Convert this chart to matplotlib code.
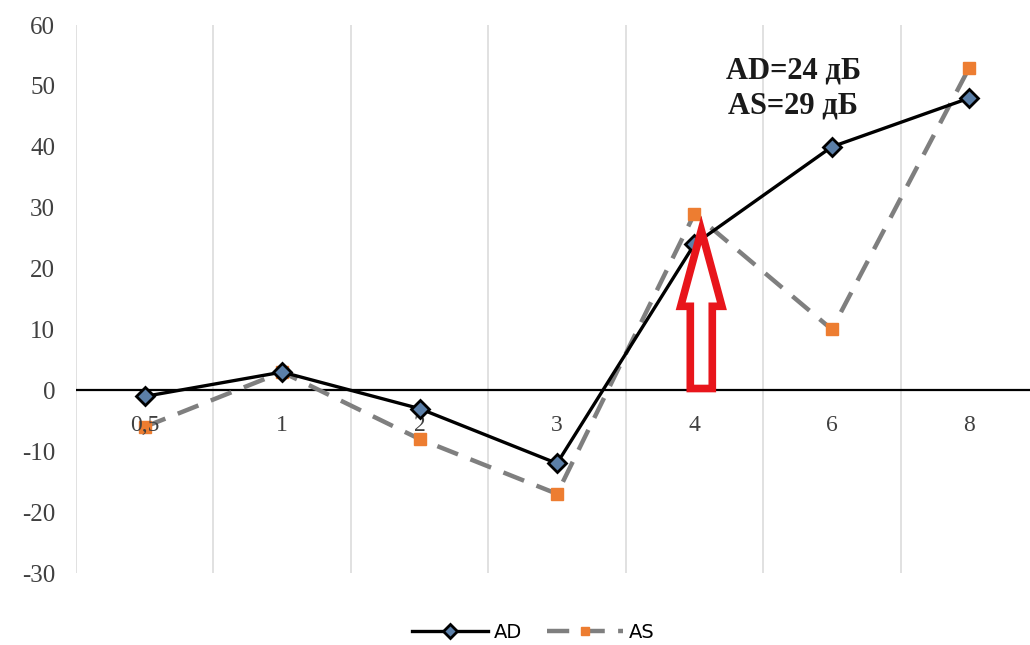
import matplotlib.pyplot as plt
import numpy as np
from matplotlib.patches import FancyArrow

# Frequencies (kHz) and thresholds
categories = ['0,5', '1', '2', '3', '4', '6', '8']
ad_values = [-1, 3, -3, -12, 24, 40, 48]
as_values = [-6, 3, -8, -17, 29, 10, 53]
y_ticks = list(range(-30, 61, 10))
note_text = 'AD=24 дБ\nAS=29 дБ'
arrow_idx = 4

dpi = 100
fig = plt.figure(figsize=(1030/dpi, 645/dpi), dpi=dpi)
ax = fig.add_axes([76/1030, 1 - 573/645, 962/1030, 548/645])

x = np.arange(len(categories))

# vertical gridlines at category boundaries
for b in np.arange(-0.5, len(categories) + 0.5, 1):
    ax.axvline(b, color='#dcdcdc', lw=1.2, zorder=0)
ax.axhline(0, color='black', lw=1.6, zorder=1)

ax.plot(x, as_values, color='#7f7f7f', lw=3.2, ls=(0, (5, 3)),
        marker='s', ms=8.5, mfc='#ed7d31', mec='#ed7d31', label='AS', zorder=3)
ax.plot(x, ad_values, color='black', lw=2.4,
        marker='D', ms=9, mfc='#5b7fa8', mec='black', mew=2, label='AD', zorder=4)

# hollow red arrow pointing at the 4 kHz values
arr = FancyArrow(arrow_idx + 0.05, 0.3, 0, as_values[arrow_idx] - 3,
                 width=0.16, head_width=0.3, head_length=12.5,
                 length_includes_head=True, fc='white', ec='#e8151b',
                 lw=5.5, joinstyle='miter', zorder=5)
ax.add_patch(arr)

ax.text(4.72, 49.6, note_text, ha='center', va='center',
        fontsize=22, fontweight='bold', family='Liberation Serif',
        linespacing=1.25, color='#1a1a1a', zorder=6)

for i, c in enumerate(categories):
    ax.annotate(c, (i, 0), xytext=(0, -25), textcoords='offset points',
                ha='center', va='center', fontsize=17,
                family='Liberation Serif', color='#404040')

ax.set_xlim(-0.5, len(categories) - 0.5)
ax.set_ylim(-30, 60)
ax.set_yticks(y_ticks)
ax.set_yticklabels([str(t) for t in y_ticks], family='Liberation Serif',
                   fontsize=18, color='#404040')
ax.tick_params(axis='y', length=0, pad=15)
ax.set_xticks([])
for s in ax.spines.values():
    s.set_visible(False)

handles, labels = ax.get_legend_handles_labels()
fig.legend(handles[::-1], labels[::-1], loc='center', bbox_to_anchor=(533/1030, 1 - 632/645),
           ncol=2, frameon=False, fontsize=14, handlelength=3.9, columnspacing=1.3,
           handletextpad=0.3, markerscale=0.75)

fig.savefig('out.png', dpi=dpi)
